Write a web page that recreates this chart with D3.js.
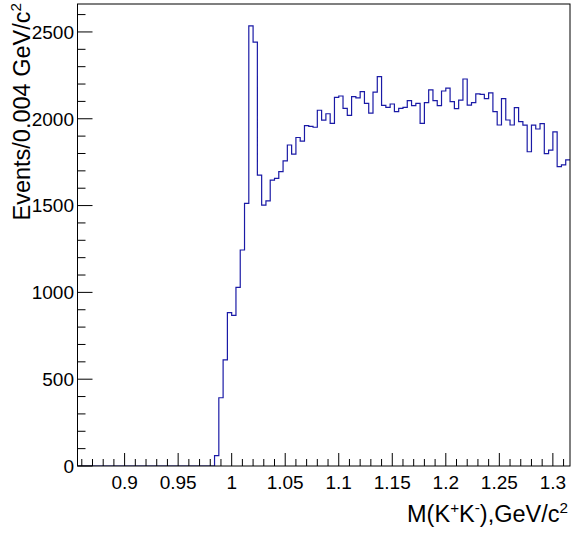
<!DOCTYPE html>
<html>
<head>
<meta charset="utf-8">
<script src="https://cdn.jsdelivr.net/npm/d3@7"></script>
<style>
  html, body { margin: 0; padding: 0; background: #fff; }
  svg { display: block; font-family: "Liberation Sans", Arial, sans-serif; }
</style>
</head>
<body>
<svg id="chart" width="571" height="534"></svg>
<script>
// ---- data ----
const binStart = 0.856;
const binWidth = 0.004;
const counts = [
  0, 0, 0, 0, 0, 0, 0, 0, 0, 0,
  0, 0, 0, 0, 0, 0, 0, 0, 0, 0,
  0, 0, 0, 0, 0, 0, 0, 0, 0, 0,
  0, 0,
  60, 393, 611, 883, 868, 1029, 1244, 1513, 2535, 2441,
  1675, 1502, 1527, 1647, 1657, 1696, 1757, 1849, 1796, 1892,
  1871, 1961, 1956, 1951, 2049, 1992, 2029, 1974, 2123, 2131,
  2060, 2020, 2127, 2120, 2156, 2089, 2032, 2153, 2243, 2077,
  2066, 2085, 2041, 2060, 2066, 2104, 2076, 2089, 1974, 2093,
  2166, 2104, 2076, 2160, 2177, 2099, 2058, 2107, 2229, 2078,
  2093, 2143, 2141, 2116, 2149, 2041, 1964, 2116, 1993, 1964,
  2064, 1983, 1963, 1810, 1963, 1941, 1972, 1799, 1819, 1924,
  1724, 1734, 1763
];
const xTicks = [0.9, 0.95, 1.0, 1.05, 1.1, 1.15, 1.2, 1.25, 1.3];
const xTickLabels = ["0.9", "0.95", "1", "1.05", "1.1", "1.15", "1.2", "1.25", "1.3"];
const yTicks = [0, 500, 1000, 1500, 2000, 2500];
const yTickLabels = ["0", "500", "1000", "1500", "2000", "2500"];
const xDomain = [0.856, 1.316];
const yDomain = [0, 2661];

// ---- layout ----
const L = 77.5, R = 570, T = 4, B = 466;
const svg = d3.select("#chart");
const x = d3.scaleLinear().domain(xDomain).range([L, R]);
const y = d3.scaleLinear().domain(yDomain).range([B, T]);

// histogram outline
const pts = [];
counts.forEach((c, i) => {
  const x0 = binStart + i * binWidth;
  pts.push([x0, c], [x0 + binWidth, c]);
});
svg.append("defs").append("clipPath").attr("id", "clip")
  .append("rect").attr("x", L).attr("y", T).attr("width", R - L).attr("height", B - T);
svg.append("path")
  .attr("clip-path", "url(#clip)")
  .attr("d", d3.line().x(d => x(d[0])).y(d => y(d[1]))(pts))
  .attr("fill", "none")
  .attr("stroke", "#1a1aa6")
  .attr("stroke-width", 1.2);

// minor ticks
const xMinor = d3.range(0.86, 1.3151, 0.01);
const yMinor = d3.range(0, 2661, 100);

const g = svg.append("g").attr("stroke", "#000").attr("stroke-width", 1);
xMinor.forEach(v => {
  const isMajor = xTicks.some(t => Math.abs(t - v) < 1e-6);
  g.append("line").attr("x1", x(v)).attr("x2", x(v))
    .attr("y1", B).attr("y2", B - (isMajor ? 13 : 7));
});
yMinor.forEach(v => {
  const isMajor = v % 500 === 0;
  g.append("line").attr("y1", y(v)).attr("y2", y(v))
    .attr("x1", L).attr("x2", L + (isMajor ? 15 : 8));
});

// frame
svg.append("rect").attr("x", L).attr("y", T).attr("width", R - L).attr("height", B - T)
  .attr("fill", "none").attr("stroke", "#000").attr("stroke-width", 1);

// tick labels
const fs = 19;
xTicks.forEach((t, i) => {
  svg.append("text").attr("x", x(t)).attr("y", 489)
    .attr("text-anchor", "middle").attr("font-size", fs).text(xTickLabels[i]);
});
yTicks.forEach((t, i) => {
  svg.append("text").attr("x", 74).attr("y", y(t) + 6.8)
    .attr("text-anchor", "end").attr("font-size", fs).text(yTickLabels[i]);
});

// axis titles
const tfs = 23.5;
const xt = svg.append("text").attr("x", 568).attr("y", 522)
  .attr("text-anchor", "end").attr("font-size", tfs);
xt.append("tspan").text("M(K");
xt.append("tspan").attr("dy", -9).attr("font-size", tfs * 0.65).text("+");
xt.append("tspan").attr("dy", 9).text("K");
xt.append("tspan").attr("dy", -9).attr("font-size", tfs * 0.65).text("-");
xt.append("tspan").attr("dy", 9).text("),GeV/c");
xt.append("tspan").attr("dy", -9).attr("font-size", tfs * 0.65).text("2");

const yt = svg.append("text").attr("transform", "translate(30,3) rotate(-90)")
  .attr("text-anchor", "end").attr("font-size", tfs);
yt.append("tspan").text("Events/0.004 GeV/c");
yt.append("tspan").attr("dy", -9).attr("font-size", tfs * 0.65).text("2");
</script>
</body>
</html>
